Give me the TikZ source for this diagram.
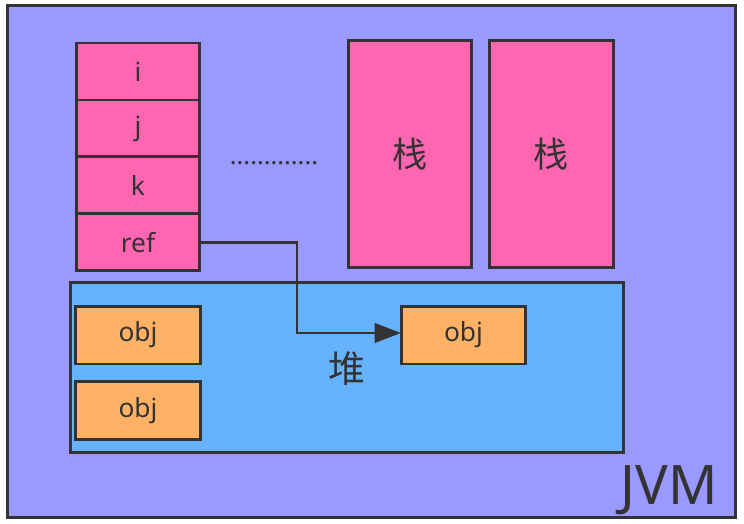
\documentclass[tikz,border=0pt]{standalone}
\usepackage{fontspec}
\setmainfont{Noto Sans}
\newfontfamily\cjk{Noto Sans CJK SC}
\usetikzlibrary{positioning}
\usetikzlibrary{arrows.meta}
\definecolor{jvmbg}{HTML}{9999FF}
\definecolor{stackpink}{HTML}{FF66B2}
\definecolor{heapblue}{HTML}{66B2FF}
\definecolor{objorange}{HTML}{FFB266}
\definecolor{inkgray}{HTML}{333333}
\tikzset{
 box/.style={draw=inkgray,line width=1.7pt,inner sep=0pt,outer sep=0pt,text=inkgray},
 slot/.style={box,fill=stackpink,minimum width=2.48cm,minimum height=1.14cm,font=\fontsize{15}{15}\selectfont},
 stackbox/.style={box,fill=stackpink,minimum width=2.48cm,minimum height=4.56cm,font=\cjk\fontsize{20}{20}\selectfont},
 objbox/.style={box,fill=objorange,minimum width=2.5cm,minimum height=1.16cm,font=\fontsize{15}{15}\selectfont},
}
\begin{document}
\begin{tikzpicture}[x=0.02cm,y=-0.02cm]
 \useasboundingbox[fill=white] (0,0) rectangle (744,524);
 %JVM
 \node[box,fill=jvmbg,minimum width=14.58cm,minimum height=10.26cm] (jvm) at (371.5,261.5) {};
 \node[text=inkgray,font=\fontsize{31}{31}\selectfont,anchor=base east,inner sep=0pt] (jvmlabel) at (718,504) {JVM};
 %pile de gauche
 \node[slot] (i) at (138,71.5) {i};
 \node[slot,below=0pt of i] (j) {j};
 \node[slot,below=0pt of j] (k) {k};
 \node[slot,below=0pt of k] (ref) {ref};
 \node[text=inkgray,font=\Large,anchor=base] (dots) at (274,164) {.............};
 %les deux autres piles
 \node[stackbox] (stacka) at (410,154) {栈};
 \node[stackbox] (stackb) at (551.5,154) {栈};
 %tas
 \node[box,fill=heapblue,minimum width=11.08cm,minimum height=3.42cm] (heap) at (347,367.5) {};
 \node[text=inkgray,font=\cjk\fontsize{21}{21}\selectfont] (heaplabel) at (347,369) {堆};
 \node[objbox] (obja) at (138,335) {obj};
 \node[objbox] (objb) at (138,410.5) {obj};
 \node[objbox] (objc) at (463.5,335) {obj};
 %reference
 \coordinate (bend) at (297,333);
 \draw[inkgray,line width=1.7pt,-{Triangle[length=15pt,width=11pt]}] (ref.east) -| (bend) -- (bend -| objc.west);
\end{tikzpicture}
\end{document}
